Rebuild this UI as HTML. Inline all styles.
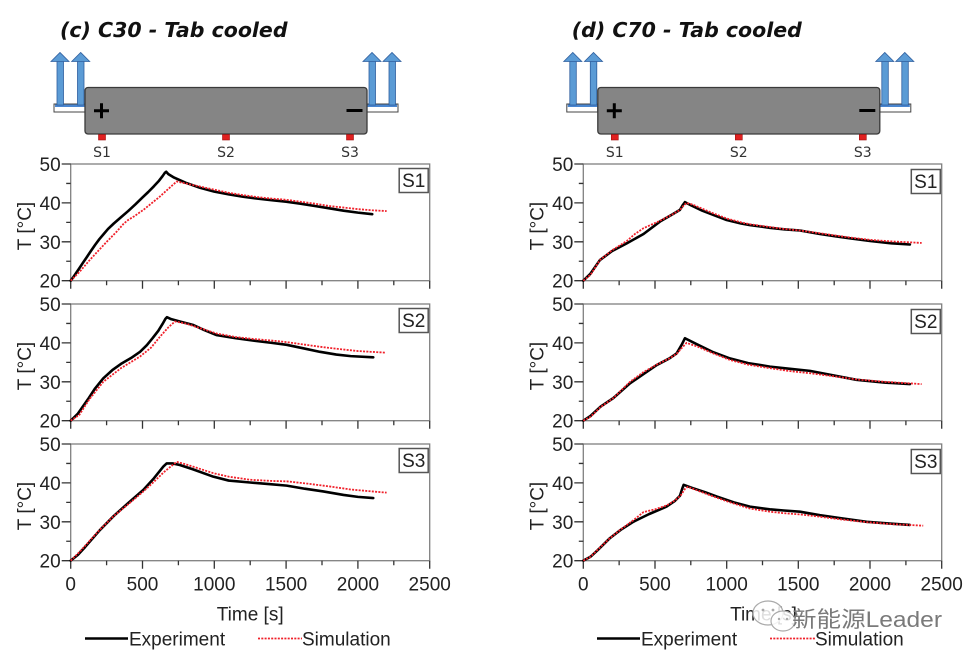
<!DOCTYPE html>
<html><head><meta charset="utf-8">
<style>
html,body{margin:0;padding:0;background:#fff}
svg{display:block}
.k{stroke:#000;stroke-width:2.6;fill:none;stroke-linejoin:round;stroke-linecap:round}
.r{stroke:#f0202a;stroke-width:1.8;fill:none;stroke-dasharray:2 1.3}
.fr{fill:none;stroke:#808080;stroke-width:1.3}
.tk{stroke:#333;stroke-width:1.3;fill:none}
.yl text{font-size:19px;fill:#222;text-anchor:end}
.sb{fill:#fff;stroke:#555;stroke-width:1.5}
.st{font-size:19px;fill:#222;text-anchor:middle}
</style></head>
<body>
<svg width="974" height="661" viewBox="0 0 974 661" xmlns="http://www.w3.org/2000/svg" font-family="'Liberation Sans', Arial, sans-serif">

<!-- ===== Diagram left ===== -->
<g id="diagL">
  <text x="60" y="37" font-family="'DejaVu Sans', Verdana, sans-serif" font-weight="bold" font-style="italic" font-size="20.5" fill="#111">(c) C30 - Tab cooled</text>
  <rect x="54" y="104" width="31" height="8" fill="#fff" stroke="#444" stroke-width="1"/>
  <rect x="55" y="104.5" width="30" height="2.5" fill="#4a86d0"/>
  <rect x="367" y="104" width="31" height="8" fill="#fff" stroke="#444" stroke-width="1"/>
  <rect x="367" y="104.5" width="30" height="2.5" fill="#4a86d0"/>
  <g fill="#5b9bd5" stroke="#2f5f9f" stroke-width="0.8">
    <rect x="57" y="61" width="6.5" height="44"/><polygon points="51,61.5 69,61.5 60,52.5"/>
    <rect x="77.5" y="61" width="6.5" height="44"/><polygon points="71.7,61.5 89.7,61.5 80.7,52.5"/>
    <rect x="369" y="61" width="6.5" height="44"/><polygon points="363,61.5 381,61.5 372,52.5"/>
    <rect x="389" y="61" width="6.5" height="44"/><polygon points="383,61.5 401,61.5 392,52.5"/>
  </g>
  <rect x="85" y="87.5" width="282" height="46.5" rx="3" fill="#858585" stroke="#3a3a3a" stroke-width="1.3"/>
  <path d="M94,110.8H109M101.5,103.3V118.3" stroke="#000" stroke-width="3"/>
  <path d="M346.5,110.5H362.5" stroke="#000" stroke-width="3"/>
  <g fill="#e02020" stroke="#a01010" stroke-width="0.6">
    <rect x="98.5" y="134.5" width="7" height="5.5"/>
    <rect x="222.5" y="134.5" width="7" height="5.5"/>
    <rect x="346.5" y="134.5" width="7" height="5.5"/>
  </g>
  <g font-family="'DejaVu Sans', Verdana, sans-serif" font-size="14" fill="#333" text-anchor="middle">
    <text x="102" y="157">S1</text><text x="226" y="157">S2</text><text x="350" y="157">S3</text>
  </g>
</g>

<!-- ===== Diagram right ===== -->
<g transform="translate(512.8,0)">
  <text x="59" y="37" font-family="'DejaVu Sans', Verdana, sans-serif" font-weight="bold" font-style="italic" font-size="20.5" fill="#111">(d) C70 - Tab cooled</text>
  <rect x="54" y="104" width="31" height="8" fill="#fff" stroke="#444" stroke-width="1"/>
  <rect x="55" y="104.5" width="30" height="2.5" fill="#4a86d0"/>
  <rect x="367" y="104" width="31" height="8" fill="#fff" stroke="#444" stroke-width="1"/>
  <rect x="367" y="104.5" width="30" height="2.5" fill="#4a86d0"/>
  <g fill="#5b9bd5" stroke="#2f5f9f" stroke-width="0.8">
    <rect x="57" y="61" width="6.5" height="44"/><polygon points="51,61.5 69,61.5 60,52.5"/>
    <rect x="77.5" y="61" width="6.5" height="44"/><polygon points="71.7,61.5 89.7,61.5 80.7,52.5"/>
    <rect x="369" y="61" width="6.5" height="44"/><polygon points="363,61.5 381,61.5 372,52.5"/>
    <rect x="389" y="61" width="6.5" height="44"/><polygon points="383,61.5 401,61.5 392,52.5"/>
  </g>
  <rect x="85" y="87.5" width="282" height="46.5" rx="3" fill="#858585" stroke="#3a3a3a" stroke-width="1.3"/>
  <path d="M94,110.8H109M101.5,103.3V118.3" stroke="#000" stroke-width="3"/>
  <path d="M346.5,110.5H362.5" stroke="#000" stroke-width="3"/>
  <g fill="#e02020" stroke="#a01010" stroke-width="0.6">
    <rect x="98.5" y="134.5" width="7" height="5.5"/>
    <rect x="222.5" y="134.5" width="7" height="5.5"/>
    <rect x="346.5" y="134.5" width="7" height="5.5"/>
  </g>
  <g font-family="'DejaVu Sans', Verdana, sans-serif" font-size="14" fill="#333" text-anchor="middle">
    <text x="102" y="157">S1</text><text x="226" y="157">S2</text><text x="350" y="157">S3</text>
  </g>
</g>

<!-- ===== LEFT PLOTS ===== -->
<g transform="translate(70.7,164)">
  <rect class="fr" x="0" y="0" width="359" height="116.7"/>
  <path class="tk" d="M-9,0H0M-4.5,19.45H0M-9,38.9H0M-4.5,58.35H0M-9,77.8H0M-4.5,97.25H0M-9,116.7H0M0,116.7v8M35.9,116.7v4.5M71.8,116.7v8M107.7,116.7v4.5M143.6,116.7v8M179.5,116.7v4.5M215.4,116.7v8M251.3,116.7v4.5M287.2,116.7v8M323.1,116.7v4.5M359,116.7v8"/>
  <g class="yl"><text x="-10" y="7">50</text><text x="-10" y="45.9">40</text><text x="-10" y="84.8">30</text><text x="-10" y="123.7">20</text></g>
  <rect class="sb" x="328.5" y="4.5" width="29" height="24"/><text class="st" x="343" y="23">S1</text>
  <g transform="matrix(0.1436,0,0,-3.889,0,194.45)">
    <polyline class="k" vector-effect="non-scaling-stroke" points="0,20 20,21 40,22.1 60,23.2 85,24.6 111,26 140,27.6 170,29.2 200,30.7 230,32 260,33.3 300,34.7 350,36.3 400,37.9 450,39.6 500,41.4 540,42.8 580,44.3 615,45.7 640,46.9 655,47.7 665,48 680,47.4 720,46.5 800,45.2 900,43.9 1000,42.9 1100,42.2 1200,41.6 1300,41.1 1400,40.7 1500,40.3 1600,39.8 1700,39.2 1800,38.6 1900,38 2000,37.5 2100,37.1"/>
    <polyline class="r" vector-effect="non-scaling-stroke" points="0,20 60,22.2 130,25.2 200,28 251,30 320,32.6 370,34.7 400,35.6 440,36.5 506,38.2 560,39.8 620,41.6 680,43.6 738,45.5 800,45 900,44.2 1000,43.4 1100,42.6 1200,42 1300,41.5 1400,41.1 1500,40.8 1600,40.3 1700,39.8 1800,39.2 1900,38.8 2000,38.4 2100,38.1 2200,37.9"/>
  </g>
</g>
<g transform="translate(70.7,304)">
  <rect class="fr" x="0" y="0" width="359" height="116.7"/>
  <path class="tk" d="M-9,0H0M-4.5,19.45H0M-9,38.9H0M-4.5,58.35H0M-9,77.8H0M-4.5,97.25H0M-9,116.7H0M0,116.7v8M35.9,116.7v4.5M71.8,116.7v8M107.7,116.7v4.5M143.6,116.7v8M179.5,116.7v4.5M215.4,116.7v8M251.3,116.7v4.5M287.2,116.7v8M323.1,116.7v4.5M359,116.7v8"/>
  <g class="yl"><text x="-10" y="7">50</text><text x="-10" y="45.9">40</text><text x="-10" y="84.8">30</text><text x="-10" y="123.7">20</text></g>
  <rect class="sb" x="328.5" y="4.5" width="29" height="24"/><text class="st" x="343" y="23">S2</text>
  <g transform="matrix(0.1436,0,0,-3.889,0,194.45)">
    <polyline class="k" vector-effect="non-scaling-stroke" points="0,20 50,21.8 120,25.5 170,28.3 227,30.9 290,33 350,34.6 420,36.1 483,37.7 530,39.4 570,41.2 610,43.1 640,44.9 660,46.2 670,46.6 700,46.1 760,45.5 854,44.6 930,43.3 1017,42 1150,41.2 1272,40.6 1400,40 1504,39.5 1620,38.6 1736,37.7 1850,37 1950,36.6 2107,36.3"/>
    <polyline class="r" vector-effect="non-scaling-stroke" points="0,20 60,21.5 130,25.5 227,30 350,33.5 483,36.5 560,38.8 622,41.6 680,44 726,45.5 800,45 900,43.8 1017,42.4 1150,41.5 1272,41 1400,40.6 1504,40.2 1620,39.6 1736,39 1850,38.5 2000,37.9 2189,37.5"/>
  </g>
</g>
<g transform="translate(70.7,444)">
  <rect class="fr" x="0" y="0" width="359" height="116.7"/>
  <path class="tk" d="M-9,0H0M-4.5,19.45H0M-9,38.9H0M-4.5,58.35H0M-9,77.8H0M-4.5,97.25H0M-9,116.7H0M0,116.7v8M35.9,116.7v4.5M71.8,116.7v8M107.7,116.7v4.5M143.6,116.7v8M179.5,116.7v4.5M215.4,116.7v8M251.3,116.7v4.5M287.2,116.7v8M323.1,116.7v4.5M359,116.7v8"/>
  <g class="yl"><text x="-10" y="7">50</text><text x="-10" y="45.9">40</text><text x="-10" y="84.8">30</text><text x="-10" y="123.7">20</text></g>
  <rect class="sb" x="328.5" y="4.5" width="29" height="24"/><text class="st" x="343" y="23">S3</text>
  <g font-size="19" fill="#222" text-anchor="middle">
    <text x="0" y="146.7">0</text><text x="71.8" y="146.7">500</text><text x="143.6" y="146.7">1000</text><text x="215.4" y="146.7">1500</text><text x="287.2" y="146.7">2000</text><text x="359" y="146.7">2500</text>
  </g>
  <g transform="matrix(0.1436,0,0,-3.889,0,194.45)">
    <polyline class="k" vector-effect="non-scaling-stroke" points="0,20 50,21.5 100,23.5 204,27.9 300,31.5 400,34.8 506,38.2 580,41.2 645,44.2 668,45 710,45 760,44.6 850,43.5 993,41.6 1100,40.6 1249,40.1 1380,39.7 1504,39.3 1630,38.5 1759,37.8 1900,36.9 2000,36.4 2107,36.1"/>
    <polyline class="r" vector-effect="non-scaling-stroke" points="0,20 50,21.8 100,23.8 204,28 300,31.5 400,34.5 506,37.8 580,40.3 650,42.8 700,44.3 738,45.4 800,44.8 900,43.6 993,42.5 1100,41.6 1250,40.8 1400,40.5 1504,40.4 1650,39.8 1800,39.1 1950,38.3 2100,37.8 2200,37.5"/>
  </g>
</g>

<g font-size="19" fill="#222" text-anchor="middle">
  <text transform="translate(31,226) rotate(-90)">T [°C]</text>
  <text transform="translate(31,366) rotate(-90)">T [°C]</text>
  <text transform="translate(31,506) rotate(-90)">T [°C]</text>
  <text x="250.2" y="620.5">Time [s]</text>
</g>
<line x1="85" y1="638.5" x2="128" y2="638.5" stroke="#000" stroke-width="2.6"/>
<text x="129" y="645.5" font-size="19" fill="#222">Experiment</text>
<line x1="258" y1="638.5" x2="302" y2="638.5" stroke="#f0202a" stroke-width="1.8" stroke-dasharray="2 1.3"/>
<text x="302" y="645.5" font-size="19" fill="#222">Simulation</text>

<!-- ===== RIGHT PLOTS ===== -->
<g transform="translate(583.3,164)">
  <rect class="fr" x="0" y="0" width="358.4" height="116.7"/>
  <path class="tk" d="M-9,0H0M-4.5,19.45H0M-9,38.9H0M-4.5,58.35H0M-9,77.8H0M-4.5,97.25H0M-9,116.7H0M0,116.7v8M35.84,116.7v4.5M71.7,116.7v8M107.5,116.7v4.5M143.4,116.7v8M179.2,116.7v4.5M215,116.7v8M250.9,116.7v4.5M286.7,116.7v8M322.6,116.7v4.5M358.4,116.7v8"/>
  <g class="yl"><text x="-10" y="7">50</text><text x="-10" y="45.9">40</text><text x="-10" y="84.8">30</text><text x="-10" y="123.7">20</text></g>
  <rect class="sb" x="328" y="5.5" width="29" height="24"/><text class="st" x="342.5" y="24">S1</text>
  <g transform="matrix(0.14336,0,0,-3.889,0,194.45)">
    <polyline class="k" vector-effect="non-scaling-stroke" points="0,20 50,21.8 116,25.3 200,27.6 303,29.6 420,32 535,35.2 620,37 674,38.2 695,39.5 709,40.2 750,39.4 830,38 907,36.9 1000,35.6 1100,34.7 1162,34.3 1300,33.6 1400,33.2 1511,32.9 1650,32 1760,31.4 1860,30.9 2000,30.2 2150,29.6 2278,29.3"/>
    <polyline class="r" vector-effect="non-scaling-stroke" points="0,20 50,21.5 116,25.3 200,27.8 303,30.2 360,32 420,33.5 535,35.4 620,37 674,38.2 700,39.3 720,40 760,39.6 830,38.5 907,37.3 1000,36 1100,35 1162,34.5 1300,33.8 1400,33.3 1511,32.9 1650,32.2 1760,31.6 1860,31.1 2000,30.5 2150,30.1 2360,29.7"/>
  </g>
</g>
<g transform="translate(583.3,304)">
  <rect class="fr" x="0" y="0" width="358.4" height="116.7"/>
  <path class="tk" d="M-9,0H0M-4.5,19.45H0M-9,38.9H0M-4.5,58.35H0M-9,77.8H0M-4.5,97.25H0M-9,116.7H0M0,116.7v8M35.84,116.7v4.5M71.7,116.7v8M107.5,116.7v4.5M143.4,116.7v8M179.2,116.7v4.5M215,116.7v8M250.9,116.7v4.5M286.7,116.7v8M322.6,116.7v4.5M358.4,116.7v8"/>
  <g class="yl"><text x="-10" y="7">50</text><text x="-10" y="45.9">40</text><text x="-10" y="84.8">30</text><text x="-10" y="123.7">20</text></g>
  <rect class="sb" x="328" y="5.5" width="29" height="24"/><text class="st" x="342.5" y="24">S2</text>
  <g transform="matrix(0.14336,0,0,-3.889,0,194.45)">
    <polyline class="k" vector-effect="non-scaling-stroke" points="0,20 50,21.2 120,23.6 209,25.8 326,29.6 420,32 512,34.3 600,36 651,37.3 686,39.5 709,41.2 800,39.5 900,37.7 1023,36 1150,34.8 1302,33.9 1450,33.3 1581,32.8 1750,31.6 1906,30.5 2100,29.8 2278,29.4"/>
    <polyline class="r" vector-effect="non-scaling-stroke" points="0,20 50,21 120,23.5 209,25.8 326,30 420,32.5 512,34.4 600,36 651,37.2 690,38.8 720,40 800,39 900,37.4 1023,35.6 1150,34.4 1302,33.5 1450,32.7 1581,32.2 1750,31.4 1906,30.6 2100,30 2360,29.4"/>
  </g>
</g>
<g transform="translate(583.3,444)">
  <rect class="fr" x="0" y="0" width="358.4" height="116.7"/>
  <path class="tk" d="M-9,0H0M-4.5,19.45H0M-9,38.9H0M-4.5,58.35H0M-9,77.8H0M-4.5,97.25H0M-9,116.7H0M0,116.7v8M35.84,116.7v4.5M71.7,116.7v8M107.5,116.7v4.5M143.4,116.7v8M179.2,116.7v4.5M215,116.7v8M250.9,116.7v4.5M286.7,116.7v8M322.6,116.7v4.5M358.4,116.7v8"/>
  <g class="yl"><text x="-10" y="7">50</text><text x="-10" y="45.9">40</text><text x="-10" y="84.8">30</text><text x="-10" y="123.7">20</text></g>
  <rect class="sb" x="328" y="5.5" width="29" height="24"/><text class="st" x="342.5" y="24">S3</text>
  <g font-size="19" fill="#222" text-anchor="middle">
    <text x="0" y="146.7">0</text><text x="71.7" y="146.7">500</text><text x="143.4" y="146.7">1000</text><text x="215" y="146.7">1500</text><text x="286.7" y="146.7">2000</text><text x="358.4" y="146.7">2500</text>
  </g>
  <g transform="matrix(0.14336,0,0,-3.889,0,194.45)">
    <polyline class="k" vector-effect="non-scaling-stroke" points="0,20 50,21 100,22.7 186,25.8 260,27.9 349,30 460,32 581,33.9 640,35.4 674,36.7 690,38.5 700,39.5 760,38.7 850,37.6 930,36.5 1050,35 1162,33.9 1300,33.2 1400,32.9 1511,32.6 1650,31.7 1800,30.9 1976,30 2150,29.5 2278,29.2"/>
    <polyline class="r" vector-effect="non-scaling-stroke" points="0,20 50,21 100,22.8 186,25.8 260,28 349,30.4 420,32.5 500,33.2 581,34.2 640,35.5 680,36.8 710,38.5 730,39 800,38 900,36.6 1000,35.3 1162,33.4 1300,32.6 1400,32.2 1511,31.9 1650,31.3 1800,30.6 1976,29.9 2150,29.4 2371,29"/>
  </g>
</g>

<g font-size="19" fill="#222" text-anchor="middle">
  <text transform="translate(543.5,226) rotate(-90)">T [°C]</text>
  <text transform="translate(543.5,366) rotate(-90)">T [°C]</text>
  <text transform="translate(543.5,506) rotate(-90)">T [°C]</text>
  <text x="763.5" y="620.5">Time [s]</text>
</g>
<line x1="597" y1="638.5" x2="640" y2="638.5" stroke="#000" stroke-width="2.6"/>
<text x="641" y="645.5" font-size="19" fill="#222">Experiment</text>
<line x1="770" y1="638.5" x2="815" y2="638.5" stroke="#f0202a" stroke-width="1.8" stroke-dasharray="2 1.3"/>
<text x="815" y="645.5" font-size="19" fill="#222">Simulation</text>

<!-- Watermark -->
<g>
  <ellipse cx="768" cy="613" rx="15" ry="12" fill="#fff" fill-opacity="0.85" stroke="#aaa" stroke-width="1.2"/>
  <ellipse cx="783" cy="621" rx="12" ry="10" fill="#fff" fill-opacity="0.85" stroke="#aaa" stroke-width="1.2"/>
  <circle cx="763" cy="610" r="1.4" fill="#aaa"/><circle cx="773" cy="610" r="1.4" fill="#aaa"/>
  <circle cx="779" cy="619" r="1.2" fill="#aaa"/><circle cx="787" cy="619" r="1.2" fill="#aaa"/>
  <text x="792" y="627" font-size="22" fill="#7a7a7a" font-family="'Liberation Sans', 'Noto Sans CJK SC', sans-serif" textLength="150" lengthAdjust="spacingAndGlyphs">新能源Leader</text>
</g>
</svg>
</body></html>
